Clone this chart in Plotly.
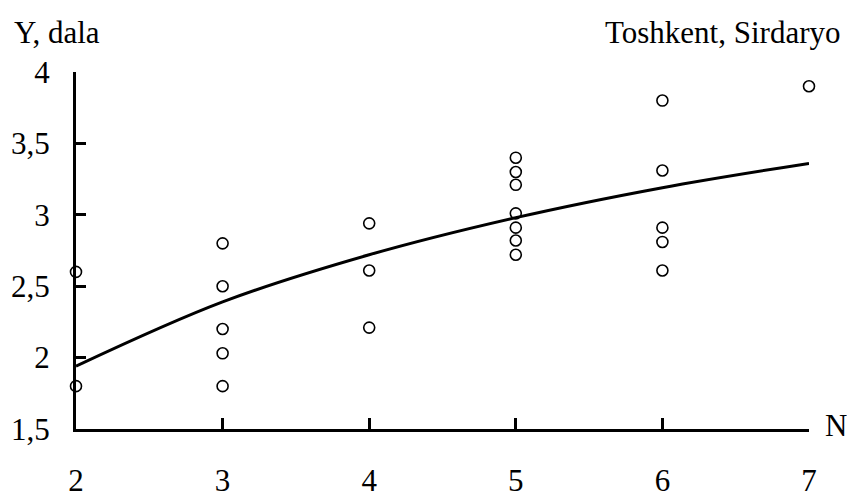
import plotly.graph_objects as go

# Observed values: number of fields N vs. yield Y (dala)
obs_n = [2, 2,
         3, 3, 3, 3, 3,
         4, 4, 4,
         5, 5, 5, 5, 5, 5, 5,
         6, 6, 6, 6, 6,
         7]
obs_y = [2.6, 1.8,
         2.8, 2.5, 2.2, 2.03, 1.8,
         2.94, 2.61, 2.21,
         3.4, 3.3, 3.21, 3.01, 2.91, 2.82, 2.72,
         3.8, 3.31, 2.91, 2.81, 2.61,
         3.9]

# Trend curve values
trend_n = [2, 3, 4, 5, 6, 7]
trend_y = [1.94, 2.39, 2.72, 2.98, 3.19, 3.36]

x_ticks = [2, 3, 4, 5, 6, 7]
y_ticks = [1.5, 2, 2.5, 3, 3.5, 4]
y_tick_text = ["1,5", "2", "2,5", "3", "3,5", "4"]

FONT = "Liberation Serif"
FS = 31

fig = go.Figure()
fig.add_trace(go.Scatter(
    x=trend_n, y=trend_y, mode="lines", line_shape="spline",
    line=dict(color="black", width=3), cliponaxis=False, hoverinfo="skip",
))
fig.add_trace(go.Scatter(
    x=obs_n, y=obs_y, mode="markers", cliponaxis=False,
    marker=dict(symbol="circle-open", size=11, color="black",
                line=dict(color="black", width=1.6)),
))

fig.update_layout(
    width=847, height=497,
    margin=dict(l=76, r=38, t=72, b=67.5, pad=0),
    paper_bgcolor="white", plot_bgcolor="white",
    showlegend=False,
    font=dict(family=FONT, size=FS, color="black"),
)
fig.update_xaxes(
    range=[2, 7], tickvals=x_ticks, ticktext=[str(v) for v in x_ticks],
    showgrid=False, zeroline=False, automargin=False,
    showline=True, linecolor="black", linewidth=3,
    ticks="inside", ticklen=11, tickwidth=3, tickcolor="black",
    ticklabelstandoff=22, tickfont=dict(family=FONT, size=FS),
)
fig.update_yaxes(
    range=[1.5, 4], tickvals=y_ticks, ticktext=y_tick_text,
    showgrid=False, zeroline=False, automargin=False,
    showline=True, linecolor="black", linewidth=3,
    ticks="inside", ticklen=10, tickwidth=3, tickcolor="black",
    ticklabelstandoff=17, tickfont=dict(family=FONT, size=FS),
)

fig.add_annotation(text="Y, dala", xref="paper", yref="paper",
                   x=-0.087, y=1.112, xanchor="left", yanchor="middle",
                   showarrow=False, font=dict(family=FONT, size=FS))
fig.add_annotation(text="Toshkent, Sirdaryo", xref="paper", yref="paper",
                   x=1.045, y=1.112, xanchor="right", yanchor="middle",
                   showarrow=False, font=dict(family=FONT, size=FS))
fig.add_annotation(text="N", xref="paper", yref="paper",
                   x=1.0187, y=0.01, xanchor="left", yanchor="middle",
                   showarrow=False, font=dict(family=FONT, size=FS))

fig.write_html("out.html")
